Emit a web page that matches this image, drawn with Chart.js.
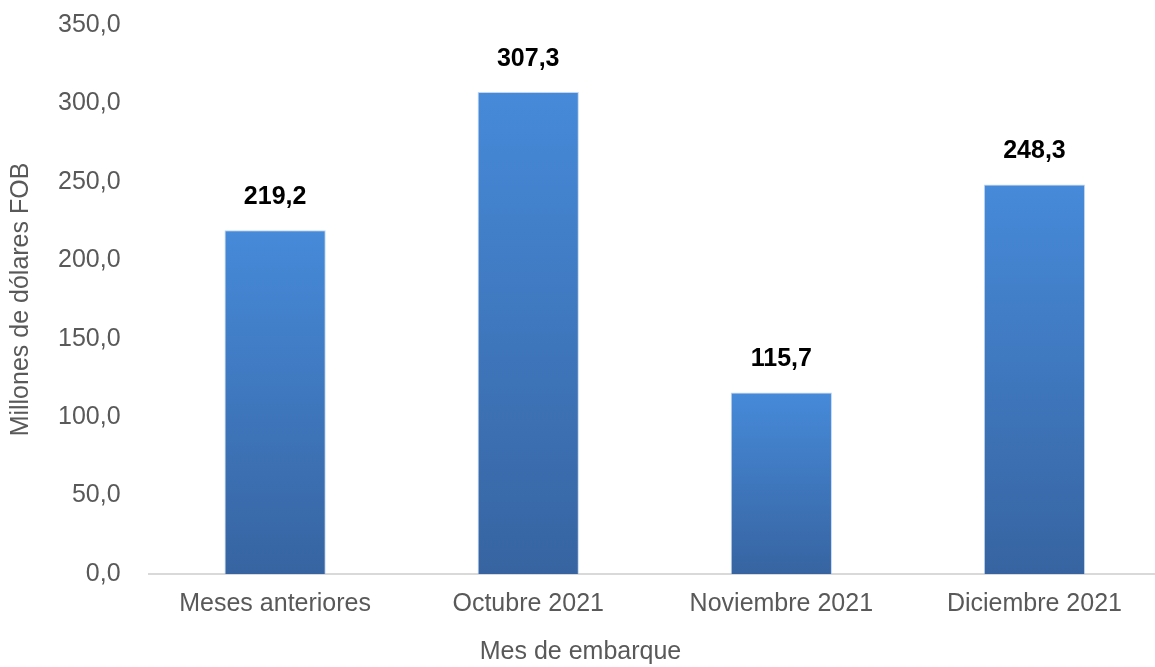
<!DOCTYPE html>
<html>
<head>
<meta charset="utf-8">
<script src="https://cdn.jsdelivr.net/npm/chart.js@4/dist/chart.umd.min.js"></script>
<style>
  html, body { margin: 0; padding: 0; background: #ffffff; overflow: hidden; }
  #wrap { width: 1202px; height: 667px; }
</style>
</head>
<body>
<div id="wrap"><canvas id="c" width="1202" height="667"></canvas></div>
<script>
const categories = ["Meses anteriores", "Octubre 2021", "Noviembre 2021", "Diciembre 2021"];
const values = [219.2, 307.3, 115.7, 248.3];
const yTicks = [0, 50, 100, 150, 200, 250, 300, 350];
const yTitle = "Millones de dólares FOB";
const xTitle = "Mes de embarque";

const FONT = "'Liberation Sans', Arial, sans-serif";
const fmt = v => v.toFixed(1).replace('.', ',');

const labelPlugin = {
  id: 'valueLabels',
  afterDatasetsDraw(chart) {
    const ctx = chart.ctx;
    const meta = chart.getDatasetMeta(0);
    ctx.save();
    ctx.font = "bold 25px " + FONT;
    ctx.fillStyle = "#000000";
    ctx.textAlign = "center";
    ctx.textBaseline = "middle";
    meta.data.forEach((bar, i) => {
      ctx.fillText(fmt(values[i]), bar.x, bar.y - 33);
    });
    ctx.restore();
  }
};

new Chart(document.getElementById('c'), {
  type: 'bar',
  data: {
    labels: categories,
    datasets: [{
      data: values,
      backgroundColor: (c) => {
        if (c.type !== 'data') return '#3f78c0';
        const chart = c.chart;
        if (!chart.chartArea) return '#3f78c0';
        const ys = chart.scales.y;
        const top = ys.getPixelForValue(c.raw);
        const bottom = ys.getPixelForValue(0);
        const g = chart.ctx.createLinearGradient(0, top, 0, bottom);
        g.addColorStop(0, '#468ad9');
        g.addColorStop(1, '#3764a1');
        return g;
      },
      borderColor: 'rgba(140,180,230,0.55)',
      borderWidth: 1,
      categoryPercentage: 1.0,
      barPercentage: 0.4
    }]
  },
  options: {
    responsive: false,
    animation: false,
    layout: { padding: { top: 0, right: 41, left: 0, bottom: 0 } },
    plugins: {
      legend: { display: false },
      tooltip: { enabled: false },
      title: {
        display: true,
        position: 'bottom',
        text: xTitle,
        color: '#595959',
        font: { family: FONT, size: 25, weight: 'normal' },
        padding: { top: 11, bottom: 0 }
      }
    },
    scales: {
      x: {
        grid: { display: false },
        border: { display: true, color: '#d9d9d9', width: 2 },
        ticks: {
          color: '#595959',
          font: { family: FONT, size: 25 },
          padding: 7,
          maxRotation: 0
        }
      },
      y: {
        min: 0,
        max: 350,
        afterBuildTicks: (axis) => { axis.ticks = yTicks.map(v => ({ value: v })); },
        grid: { display: false },
        border: { display: false },
        ticks: {
          color: '#595959',
          font: { family: FONT, size: 25, lineHeight: 0.4 },
          padding: 20,
          callback: (v) => fmt(v)
        },
        title: {
          display: true,
          text: yTitle,
          color: '#595959',
          font: { family: FONT, size: 25 },
          padding: { top: 6, bottom: 2 }
        }
      }
    }
  },
  plugins: [labelPlugin]
});
</script>
</body>
</html>
